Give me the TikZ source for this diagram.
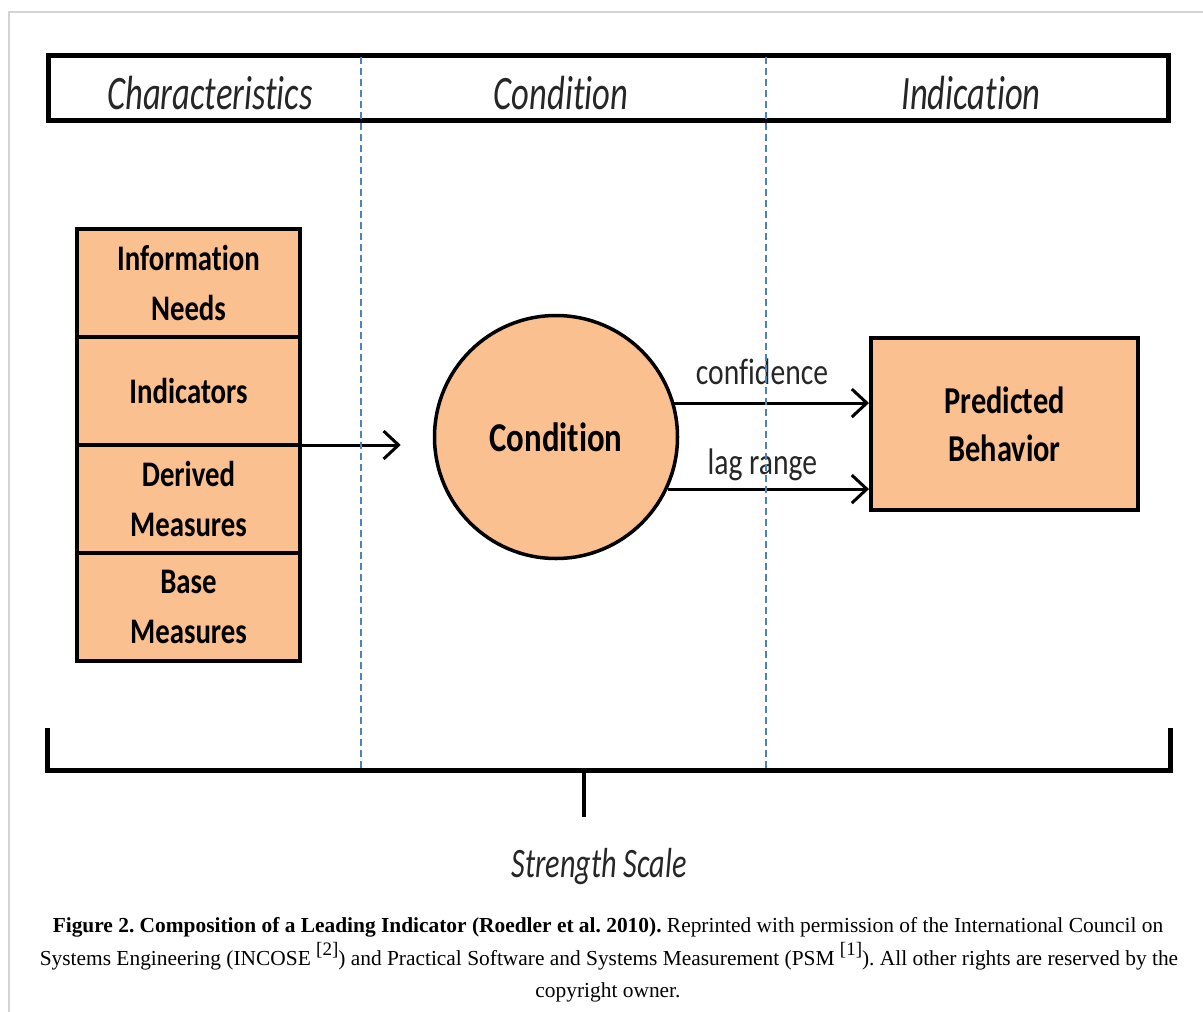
\documentclass[tikz,border=0pt]{standalone}
\usepackage{fontspec}
\setmainfont{Liberation Serif}
\newfontfamily\lblfont[FakeStretch=0.8, Ligatures=CommonOff]{Carlito}
\newfontfamily\hdrfont[FakeStretch=0.72, Ligatures=CommonOff]{Carlito}
\usetikzlibrary{arrows.meta, positioning}
\definecolor{boxfill}{HTML}{FAC090}
\definecolor{sepblue}{HTML}{4F81BD}
\definecolor{framegray}{HTML}{D4D4D4}
\newcommand{\refsup}[1]{\raisebox{0.45em}{\fontsize{19}{19}\selectfont #1}}
\frenchspacing

\begin{document}
\begin{tikzpicture}[
  x=1pt, y=-1pt,
  hdrlbl/.style={font=\hdrfont\itshape\fontsize{48}{48}\selectfont, text=black!85, anchor=base, inner sep=0pt},
  stackbox/.style={draw, line width=4pt, fill=boxfill, minimum width=223pt, minimum height=108pt,
                   outer sep=0pt, align=center, font=\lblfont\bfseries\fontsize{36}{50}\selectfont},
  arr/.style={-{Straight Barb[length=15pt, width=28pt]}, line width=3pt},
  edgelbl/.style={font=\lblfont\fontsize{37}{37}\selectfont, anchor=base, text=black!85, inner sep=0pt},
  sepline/.style={sepblue, line width=1.5pt, dash pattern=on 7pt off 4pt},
  capline/.style={font=\fontsize{21.4}{24}\selectfont, anchor=base, inner sep=0pt},
]
\useasboundingbox (0,0) rectangle (1203,1012);

% page frame
\draw[framegray, line width=1.5pt] (1203,12) -- (9,12) -- (9,1012);

% header bar
\node[draw, line width=5pt, minimum width=1120pt, minimum height=65pt, inner sep=0pt] (hdr) at (608,87.5) {};
\node[hdrlbl] (hchar) at (210,109) {Characteristics};
\node[hdrlbl] (hcond) at (561,109) {Condition};
\node[hdrlbl] (hind) at (971,109) {Indication};

% characteristics stack
\node[stackbox] (infoneeds) at (188.5,283) {Information\\Needs};
\node[stackbox, below=0pt of infoneeds] (indic) {Indicators};
\node[stackbox, below=0pt of indic] (derived) {Derived\\Measures};
\node[stackbox, below=0pt of derived] (basemeas) {Base\\Measures};

% condition and indication
\node[circle, draw, line width=3.5pt, fill=boxfill, minimum size=243pt, inner sep=0pt,
      font=\lblfont\bfseries\fontsize{41}{41}\selectfont] (cond) at (556,437) {Condition};
\node[draw, line width=4pt, fill=boxfill, minimum width=267pt, minimum height=172pt, align=center,
      font=\lblfont\bfseries\fontsize{38}{48}\selectfont] (pb) at (1004.5,424) {Predicted\\Behavior};

% arrows
\draw[arr, shorten >=32pt] (indic.south east) -- (indic.south east -| cond.west);
\draw[arr] (cond.16.7) -- (cond.16.7 -| pb.west) node[edgelbl, pos=0.45, yshift=19pt] {confidence};
\draw[arr] (cond.-25.9) -- (cond.-25.9 -| pb.west) node[edgelbl, pos=0.47, yshift=15pt] {lag range};

% strength scale
\draw[line width=5pt] (47,728) -- (47,770) -- (1170,770) -- (1170,728);
\coordinate (tick) at (584,770);
\draw[line width=4.5pt] (tick) -- ++(0,47);
\node[hdrlbl, font=\hdrfont\itshape\fontsize{42}{42}\selectfont] (strength) at (599,877) {Strength Scale};

% column separators
\foreach \sx in {361,766} { \draw[sepline] (\sx,57) -- (\sx,770); }

% caption
\node[capline] (cap1) at (608,932) {\textbf{Figure 2. Composition of a Leading Indicator (Roedler et al. 2010).} Reprinted with permission of the International Council on};
\node[capline] (cap2) at (609,965) {Systems Engineering (INCOSE \refsup{[2]}) and Practical Software and Systems Measurement (PSM \refsup{[1]}). All other rights are reserved by the};
\node[capline] (cap3) at (608,997) {copyright owner.};

\end{tikzpicture}
\end{document}
